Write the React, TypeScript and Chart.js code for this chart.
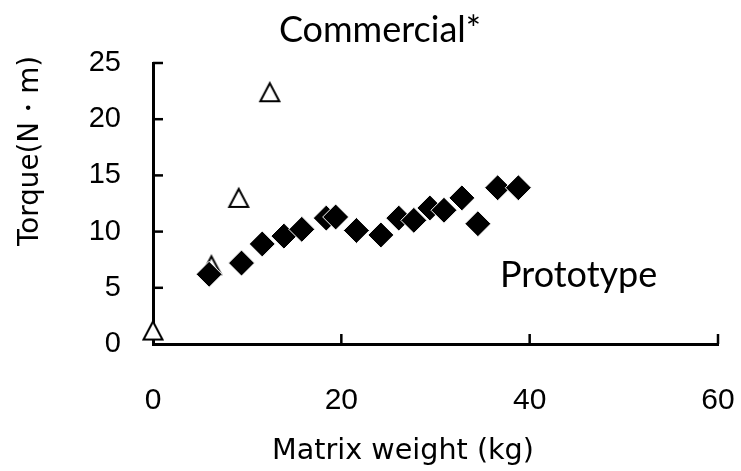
import React, { useEffect, useRef } from "react";
import { Chart, registerables } from "chart.js";

Chart.register(...registerables);

// Prototype (filled diamonds)
const prototypeX = [5.96, 9.4, 11.6, 13.9, 15.8, 18.4, 19.4, 21.6, 24.2, 26.1, 27.7, 29.4, 30.9, 32.8, 34.5, 36.6, 38.8];
const prototypeY = [6.2, 7.2, 8.9, 9.6, 10.2, 11.2, 11.3, 10.1, 9.7, 11.2, 11.0, 12.1, 11.9, 13.0, 10.7, 13.9, 13.9];
// Commercial* (open triangles)
const commercialX = [0, 6.2, 9.1, 12.4];
const commercialY = [1.2, 7.0, 13.0, 22.4];

const xTicks = [0, 20, 40, 60];
const yTicks = [0, 5, 10, 15, 20, 25];

const titleText = "Commercial*";
const seriesLabel = "Prototype";
const xTitle = "Matrix weight (kg)";
const yTitle = "Torque(N・m)";

function makeTriangle(): HTMLCanvasElement {
  const c = document.createElement("canvas");
  c.width = 24;
  c.height = 24;
  const g = c.getContext("2d")!;
  g.lineWidth = 2;
  g.lineJoin = "miter";
  g.beginPath();
  g.moveTo(12, 3);
  g.lineTo(21.5, 21);
  g.lineTo(2.5, 21);
  g.closePath();
  g.fillStyle = "#fff";
  g.fill();
  g.strokeStyle = "#000";
  g.stroke();
  return c;
}

function fitFont(ctx: CanvasRenderingContext2D, text: string, family: string, width: number) {
  ctx.font = `20px ${family}`;
  const w = ctx.measureText(text).width;
  const size = (20 * width) / w;
  ctx.font = `${size.toFixed(2)}px ${family}`;
}

export default function App() {
  const ref = useRef<HTMLCanvasElement | null>(null);

  useEffect(() => {
    if (!ref.current) return;
    const tri = makeTriangle();

    const insideTicks = {
      id: "insideTicks",
      beforeDatasetsDraw(chart: any) {
        const { ctx, chartArea } = chart;
        const xs = chart.scales.x;
        const ys = chart.scales.y;
        ctx.save();
        ctx.strokeStyle = "#000";
        ctx.lineWidth = 2.5;
        xTicks.forEach((v) => {
          if (v === 0) return;
          const px = xs.getPixelForValue(v);
          ctx.beginPath();
          ctx.moveTo(px, chartArea.bottom);
          ctx.lineTo(px, chartArea.bottom - 10);
          ctx.stroke();
        });
        yTicks.forEach((v) => {
          if (v === 0) return;
          const py = ys.getPixelForValue(v);
          ctx.beginPath();
          ctx.moveTo(chartArea.left, py);
          ctx.lineTo(chartArea.left + 10, py);
          ctx.stroke();
        });
        ctx.restore();
      },
    };

    const texts = {
      id: "texts",
      afterDraw(chart: any) {
        const { ctx } = chart;
        ctx.save();
        ctx.fillStyle = "#000";
        ctx.textBaseline = "alphabetic";
        // title
        ctx.font = "36px Lato";
        ctx.textAlign = "center";
        ctx.fillText(titleText, 380, 42);
        // series label
        ctx.textAlign = "left";
        ctx.fillText(seriesLabel, 500, 287);
        // x title
        fitFont(ctx, xTitle, "'DejaVu Sans'", 262);
        ctx.textAlign = "center";
        ctx.fillText(xTitle, 403, 459);
        // y title
        fitFont(ctx, yTitle, "'DejaVu Sans'", 190);
        ctx.translate(38, 151);
        ctx.rotate(-Math.PI / 2);
        ctx.fillText(yTitle, 0, 0);
        ctx.restore();
      },
    };

    const chart = new Chart(ref.current, {
      type: "scatter",
      data: {
        datasets: [
          {
            label: seriesLabel,
            data: prototypeX.map((x, i) => ({ x, y: prototypeY[i] })),
            pointStyle: "rectRot",
            pointRadius: 13,
            pointHoverRadius: 13,
            backgroundColor: "#000",
            borderColor: "#fff",
            borderWidth: 1,
            clip: false as any,
          },
          {
            label: titleText,
            data: commercialX.map((x, i) => ({ x, y: commercialY[i] })),
            pointStyle: tri as any,
            pointRadius: 12,
            clip: false as any,
          },
        ],
      },
      options: {
        animation: false,
        responsive: false,
        layout: { padding: { top: 63, right: 23, left: 0, bottom: 0 } },
        plugins: {
          legend: { display: false },
          tooltip: { enabled: false },
          title: { display: false },
        },
        scales: {
          x: {
            type: "linear",
            min: 0,
            max: 60,
            grid: { display: false, drawTicks: false },
            border: { display: true, color: "#000", width: 3 },
            ticks: {
              stepSize: 20,
              padding: 39,
              color: "#000",
              font: { family: "'Liberation Sans'", size: 30 },
              callback: (v: any) => (xTicks.includes(Number(v)) ? String(v) : ""),
            },
            afterFit: (s: any) => {
              s.height = 127;
              s.paddingLeft = 0;
              s.paddingRight = 0;
            },
          },
          y: {
            type: "linear",
            min: 0,
            max: 25,
            grid: { display: false, drawTicks: false },
            border: { display: true, color: "#000", width: 3 },
            ticks: {
              stepSize: 5,
              padding: 32,
              color: "#000",
              font: { family: "'Liberation Sans'", size: 29 },
              callback: (v: any) => (yTicks.includes(Number(v)) ? String(v) : ""),
            },
            afterFit: (s: any) => {
              s.width = 153;
              s.paddingTop = 0;
              s.paddingBottom = 0;
            },
          },
        },
      },
      plugins: [insideTicks, texts],
    });
    return () => chart.destroy();
  }, []);

  return (
    <div style={{ position: "absolute", left: 0, top: 0, width: 741, height: 471, background: "#fff" }}>
      <canvas ref={ref} width={741} height={471} />
    </div>
  );
}
